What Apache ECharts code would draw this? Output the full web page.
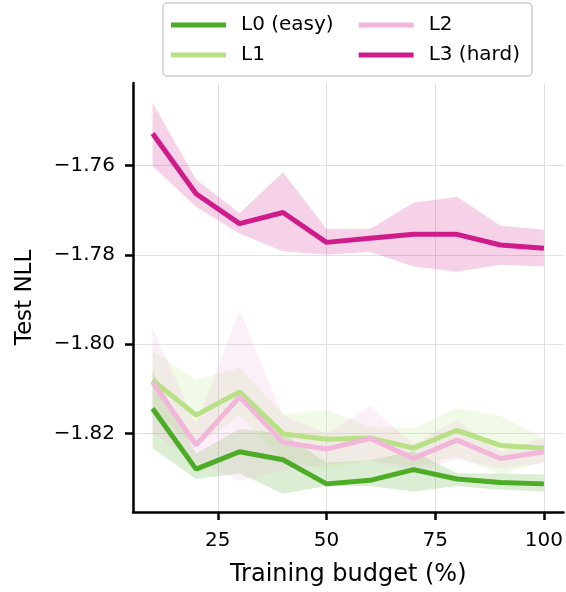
<!DOCTYPE html>
<html>
<head>
<meta charset="utf-8">
<script src="https://cdn.jsdelivr.net/npm/echarts@6/dist/echarts.min.js"></script>
<style>
html,body{margin:0;padding:0;background:#fff;}
#chart{width:566px;height:592px;}
</style>
</head>
<body>
<div id="chart"></div>
<script>
// training budget (%)
var budget = [10, 20, 30, 40, 50, 60, 70, 80, 90, 100];

// L0 (easy)
var l0Mean = [-1.8144, -1.8280, -1.8241, -1.8259, -1.8313, -1.8305, -1.8281, -1.8302, -1.8310, -1.8313];
var l0Lo   = [-1.8233, -1.8302, -1.8290, -1.8335, -1.8318, -1.8318, -1.8330, -1.8318, -1.8326, -1.8330];
var l0Hi   = [-1.8059, -1.8245, -1.8190, -1.8200, -1.8265, -1.8260, -1.8240, -1.8289, -1.8290, -1.8292];
// L1
var l1Mean = [-1.8081, -1.8159, -1.8107, -1.8201, -1.8213, -1.8210, -1.8233, -1.8193, -1.8227, -1.8233];
var l1Lo   = [-1.8150, -1.8230, -1.8160, -1.8260, -1.8280, -1.8260, -1.8274, -1.8252, -1.8292, -1.8263];
var l1Hi   = [-1.8015, -1.8080, -1.8053, -1.8157, -1.8147, -1.8185, -1.8189, -1.8143, -1.8161, -1.8211];
// L2
var l2Mean = [-1.8085, -1.8226, -1.8118, -1.8220, -1.8235, -1.8211, -1.8256, -1.8215, -1.8256, -1.8241];
var l2Lo   = [-1.8200, -1.8260, -1.8307, -1.8280, -1.8270, -1.8260, -1.8285, -1.8259, -1.8278, -1.8267];
var l2Hi   = [-1.7964, -1.8180, -1.7924, -1.8160, -1.8200, -1.8139, -1.8225, -1.8170, -1.8241, -1.8211];
// L3 (hard)
var l3Mean = [-1.7528, -1.7663, -1.7730, -1.7705, -1.7772, -1.7763, -1.7754, -1.7754, -1.7778, -1.7785];
var l3Lo   = [-1.7601, -1.7692, -1.7752, -1.7792, -1.7800, -1.7793, -1.7826, -1.7838, -1.7822, -1.7826];
var l3Hi   = [-1.7459, -1.7631, -1.7707, -1.7615, -1.7742, -1.7742, -1.7683, -1.7670, -1.7735, -1.7744];

var xTicks = [25, 50, 75, 100];
var yTicks = [-1.82, -1.80, -1.78, -1.76];

var names = ['L0 (easy)', 'L1', 'L2', 'L3 (hard)'];
var colors = ['#4dac26', '#b8e186', '#f1b6da', '#d01c8b'];
var means = [l0Mean, l1Mean, l2Mean, l3Mean];
var los = [l0Lo, l1Lo, l2Lo, l3Lo];
var his = [l0Hi, l1Hi, l2Hi, l3Hi];

var font = 'DejaVu Sans';

// shaded band = polygon through hi points then lo points back
function bandSeries(i){
    var data = [];
    for (var k = 0; k < budget.length; k++) {
        data.push([budget[k], los[i][k], his[i][k]]);
    }
    return {
        type: 'custom',
        name: names[i] + ' band',
        data: data,
        z: 1,
        silent: true,
        encode: {x: 0, y: [1, 2]},
        renderItem: function(params, api){
            if (params.dataIndex !== 0) return;
            var pts = [];
            for (var k = 0; k < budget.length; k++) {
                pts.push(api.coord([budget[k], his[i][k]]));
            }
            for (var k = budget.length - 1; k >= 0; k--) {
                pts.push(api.coord([budget[k], los[i][k]]));
            }
            return {
                type: 'polygon',
                shape: {points: pts},
                style: {fill: colors[i], opacity: 0.2}
            };
        }
    };
}

function lineSeries(i){
    var data = [];
    for (var k = 0; k < budget.length; k++) {
        data.push([budget[k], means[i][k]]);
    }
    return {
        type: 'line',
        name: names[i],
        data: data,
        z: 3,
        symbol: 'none',
        showSymbol: false,
        lineStyle: {color: colors[i], width: 5},
        itemStyle: {color: colors[i]}
    };
}

var series = [];
for (var i = 0; i < 4; i++) series.push(bandSeries(i));
for (var i = 0; i < 4; i++) series.push(lineSeries(i));

var option = {
    animation: false,
    backgroundColor: '#fff',
    grid: {left: 133, right: 2.4, top: 83, bottom: 77, containLabel: false},
    legend: {
        data: names,
        orient: 'vertical',
        left: 163,
        top: 3,
        height: 52,
        padding: [12, -3, 11, 8],
        itemGap: 10,
        itemWidth: 55,
        itemHeight: 5,
        icon: 'rect',
        borderColor: '#d0d0d0',
        borderWidth: 1.5,
        borderRadius: 4,
        textStyle: {fontFamily: font, fontSize: 20, color: '#000', lineHeight: 20, padding: [0, 15, 0, 10]}
    },
    xAxis: {
        type: 'value',
        min: 5.5,
        max: 104.5,
        name: 'Training budget (%)',
        nameLocation: 'middle',
        nameGap: 51,
        nameTextStyle: {fontFamily: font, fontSize: 24, color: '#000'},
        axisLine: {show: true, onZero: false, lineStyle: {color: '#000', width: 2.5}},
        axisTick: {show: true, length: 8, lineStyle: {color: '#000', width: 2.5}, customValues: xTicks},
        axisLabel: {fontFamily: font, fontSize: 20, color: '#000', margin: 19, customValues: xTicks},
        splitLine: {show: true, lineStyle: {color: '#e0e0e0', width: 1}}
    },
    yAxis: {
        type: 'value',
        min: -1.8376,
        max: -1.7415,
        name: 'Test NLL',
        nameLocation: 'middle',
        nameGap: 96,
        nameTextStyle: {fontFamily: font, fontSize: 23, color: '#000'},
        axisLine: {show: true, onZero: false, lineStyle: {color: '#000', width: 2.5}},
        axisTick: {show: true, length: 8, lineStyle: {color: '#000', width: 2.5}, customValues: yTicks},
        axisLabel: {
            fontFamily: font, fontSize: 20, color: '#000', margin: 18, customValues: yTicks,
            formatter: function(v){ return '\u2212' + Math.abs(v).toFixed(2); }
        },
        splitLine: {show: true, lineStyle: {color: '#e0e0e0', width: 1}}
    },
    series: series
};

var chart = echarts.init(document.getElementById('chart'));
chart.setOption(option);
</script>
</body>
</html>
